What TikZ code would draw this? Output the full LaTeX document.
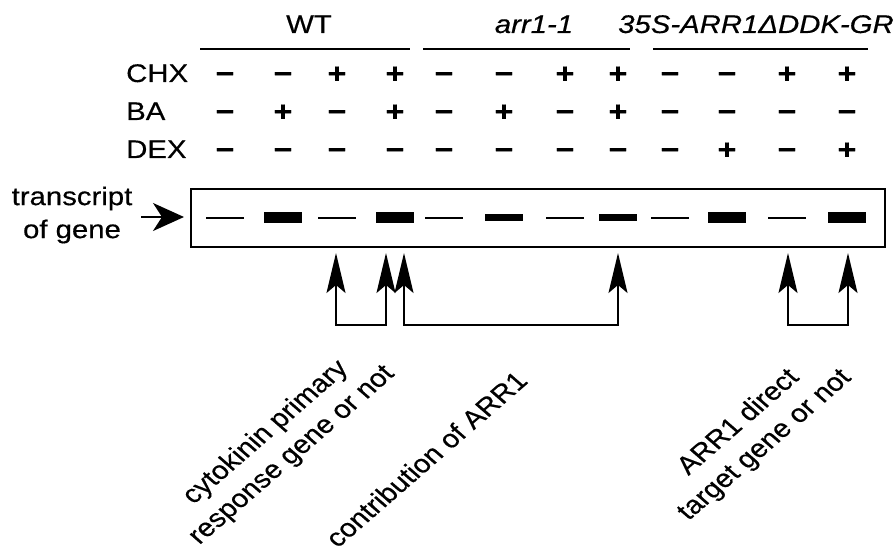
\documentclass[tikz,border=0pt]{standalone}
\usepackage{fontspec}
\setmainfont{Liberation Sans}[FakeBold=0.4]
\usetikzlibrary{arrows.meta}

\begin{document}
\begin{tikzpicture}[x=1pt,y=-1pt,
  txt/.style={inner sep=0pt, font=\fontsize{25.5}{32}\selectfont, xscale=1.15, transform shape},
  sign/.style={txt, anchor=base, font=\fontsize{28}{30}\selectfont\bfseries},
  thinband/.style={fill=black, inner sep=0pt, minimum width=38pt, minimum height=2.2pt},
  thickband/.style={fill=black, inner sep=0pt, minimum width=38pt, minimum height=11pt},
  midband/.style={fill=black, inner sep=0pt, minimum width=38pt, minimum height=7pt},
  gel/.style={draw=black, line width=2pt, inner sep=0pt, minimum width=694pt, minimum height=58pt},
  rule/.style={line width=2.2pt},
  pointer/.style={line width=2pt, -{Stealth[length=31pt,width=28pt,inset=9pt]}},
  link/.style={line width=1.8pt, {Stealth[length=40pt,width=19pt,inset=8pt]}-{Stealth[length=40pt,width=19pt,inset=8pt]}},
]
\useasboundingbox (0,0) rectangle (895,553);

% lane positions
\foreach \i/\x in {1/225,2/283,3/337,4/395,5/444,6/504,7/565,8/618,9/670,10/727,11/787,12/847}
  \coordinate (L\i) at (\x,218);

% genotype headings and rules
\node[txt, anchor=base] (wt) at (309,33) {WT};
\node[txt, anchor=base] (arr) at (534,33) {\itshape arr1-1};
\node[txt, anchor=base] (gr) at (756,33) {\itshape 35S-ARR1ΔDDK-GR};
\coordinate (r1a) at (200,49); \coordinate (r1b) at (410,49);
\coordinate (r2a) at (423,49); \coordinate (r2b) at (630,49);
\coordinate (r3a) at (653,49); \coordinate (r3b) at (868,49);
\draw[rule] (r1a) -- (r1b);
\draw[rule] (r2a) -- (r2b);
\draw[rule] (r3a) -- (r3b);

% treatment rows
\coordinate (rowchx) at (0,83);
\coordinate (rowba) at (0,121);
\coordinate (rowdex) at (0,159);
\node[txt, anchor=base west] (chx) at (126,82) {CHX};
\node[txt, anchor=base west] (ba) at (126,120) {BA};
\node[txt, anchor=base west] (dex) at (126,158) {DEX};
\foreach \s [count=\i] in {−,−,+,+,−,−,+,+,−,−,+,+}
  \node[sign] (chx\i) at (L\i |- rowchx) {\s};
\foreach \s [count=\i] in {−,+,−,+,−,+,−,+,−,−,−,−}
  \node[sign] (ba\i) at (L\i |- rowba) {\s};
\foreach \s [count=\i] in {−,−,−,−,−,−,−,−,−,+,−,+}
  \node[sign] (dex\i) at (L\i |- rowdex) {\s};

% gel lane
\node[gel] (gel) at (538,218) {};
\foreach \i in {1,3,5,7,9,11}
  \node[thinband] (b\i) at (L\i) {};
\foreach \i in {2,4,10,12}
  \node[thickband] (b\i) at (L\i) {};
\foreach \i in {6,8}
  \node[midband] (b\i) at (L\i) {};

% transcript label
\node[txt, align=center, font=\fontsize{25.5}{33}\selectfont] (tr) at (72,215) {transcript\\of gene};
\coordinate (pa) at (141,217);
\coordinate (pb) at (184,217);
\draw[pointer] (pa) -- (pb);

% comparison brackets
\coordinate (base) at (0,325);
\coordinate (t1) at (336,253);
\coordinate (t2) at (386,253);
\coordinate (t3) at (404,253);
\coordinate (t4) at (618,253);
\coordinate (t5) at (788,253);
\coordinate (t6) at (848,253);
\draw[link] (t1) -- (t1 |- base) -| (t2);
\draw[link] (t3) -- (t3 |- base) -| (t4);
\draw[link] (t5) -- (t5 |- base) -| (t6);

% bracket captions
\node[txt, rotate=45, align=center] (c1) at (279,444) {cytokinin primary\\response gene or not};
\node[txt, rotate=45] (c2) at (426,459) {contribution of ARR1};
\node[txt, rotate=45, align=center] (c3) at (752,434) {ARR1 direct\\target gene or not};
\end{tikzpicture}
\end{document}
